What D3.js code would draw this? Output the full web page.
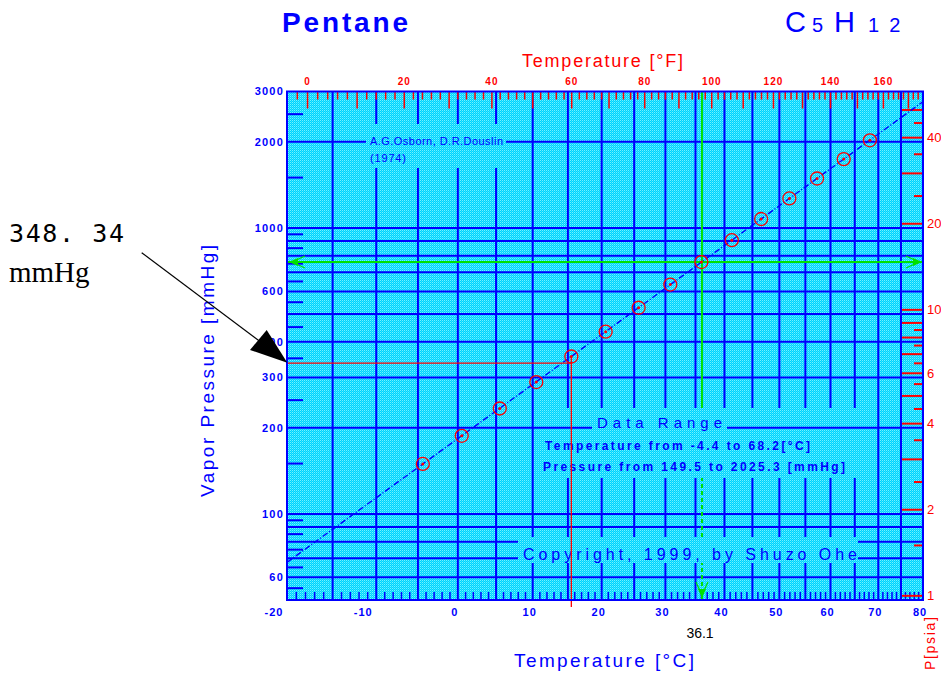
<!DOCTYPE html>
<html>
<head>
<meta charset="utf-8">
<script src="https://cdn.jsdelivr.net/npm/d3@7"></script>
<style>
body { margin: 0; background: #fff; }
svg { display: block; font-family: "Liberation Sans", Arial, sans-serif; }
</style>
</head>
<body>
<svg id="chart" width="941" height="675"></svg>
<script>
// measured points (Osborn & Douslin 1974)
var tempC = [-4.4, 0.5, 5.5, 10.5, 15.5, 20.6, 25.7, 30.8, 36.0, 41.3, 46.6, 51.9, 57.3, 62.7, 68.2];
var pressMmHg = [149.5, 187.6, 233.7, 289.1, 355.2, 433.6, 525.9, 634.0, 760.0, 906.1, 1074.6, 1268.0, 1489.1, 1740.8, 2025.3];
// fitted line end points
var fitT = [-20, 80];
var fitP = [67.7, 2764];

var yGrid = [60, 70, 80, 90, 100, 200, 300, 400, 500, 600, 700, 800, 900, 1000, 2000];
var yMinor = [55, 65, 75, 85, 95, 150, 250, 350, 450, 550, 650, 750, 850, 950, 1500, 2500];
var yLabels = [60, 100, 200, 300, 400, 600, 1000, 2000, 3000];
var xLabels = [-20, -10, 0, 10, 20, 30, 40, 50, 60, 70, 80];
var fLabels = [0, 20, 40, 60, 80, 100, 120, 140, 160];
var psiaMajor = [1, 2, 3, 4, 5, 6, 7, 8, 9, 10, 20, 30, 40, 50];
var psiaMinor = [1.5, 2.5, 3.5, 4.5, 5.5, 6.5, 7.5, 8.5, 25, 35, 45];
var psiaLabels = [1, 2, 4, 6, 10, 20, 40];

var boilT = 36.1, boilP = 760;
var markT = 15.5, markP = 337;

var svg = d3.select('#chart');
// plot frame
var pLeft = 287, pRight = 923, pTop = 91.5, pBottom = 600;
var blue = '#0000ff', red = '#ff0000', green = '#00e000';

// x axis is linear in -1/(t+C) so the Antoine line is straight
var C = 233.2;
var inv = t => -1 / (t + C);
var xInv = d3.scaleLinear().domain([inv(-20), inv(80)]).range([pLeft, pRight]);
var x = t => xInv(inv(t));
var y = d3.scaleLog().domain([50, 3000]).range([pBottom, pTop]);
var fToC = f => (f - 32) * 5 / 9;
var psiaToMmHg = p => p * 51.7149;

var defs = svg.append('defs');
var pat = defs.append('pattern').attr('id', 'dots')
	.attr('width', 2).attr('height', 2).attr('patternUnits', 'userSpaceOnUse');
pat.append('rect').attr('width', 2).attr('height', 2).attr('fill', '#00d0ff');
pat.append('rect').attr('width', 1).attr('height', 1).attr('fill', '#70f4ff');
pat.append('rect').attr('x', 1).attr('y', 1).attr('width', 1).attr('height', 1).attr('fill', '#30e4ff');

svg.append('rect')
	.attr('x', pLeft).attr('y', pTop)
	.attr('width', pRight - pLeft).attr('height', pBottom - pTop)
	.attr('fill', 'url(#dots)');

var g = svg.append('g');

//vertical grid every 5 C
g.selectAll('line.vgrid')
	.data(d3.range(-15, 80, 5))
	.enter().append('line')
	.attr('x1', d => x(d)).attr('x2', d => x(d))
	.attr('y1', pTop).attr('y2', pBottom)
	.attr('stroke', blue).attr('stroke-width', 2);

//minor ticks every 1 C at the bottom
g.selectAll('line.xminor')
	.data(d3.range(-19, 80).filter(d => d % 5 != 0))
	.enter().append('line')
	.attr('x1', d => x(d)).attr('x2', d => x(d))
	.attr('y1', pBottom - 8).attr('y2', pBottom)
	.attr('stroke', blue).attr('stroke-width', 1.5);

g.selectAll('line.hgrid')
	.data(yGrid)
	.enter().append('line')
	.attr('x1', pLeft).attr('x2', pRight)
	.attr('y1', d => y(d)).attr('y2', d => y(d))
	.attr('stroke', blue).attr('stroke-width', 2);

g.selectAll('line.yminor')
	.data(yMinor)
	.enter().append('line')
	.attr('x1', pLeft).attr('x2', pLeft + 16)
	.attr('y1', d => y(d)).attr('y2', d => y(d))
	.attr('stroke', blue).attr('stroke-width', 2);

//top F ticks
g.selectAll('line.fticks')
	.data(d3.range(-4, 177, 2))
	.enter().append('line')
	.attr('x1', d => x(fToC(d))).attr('x2', d => x(fToC(d)))
	.attr('y1', pTop).attr('y2', d => d % 10 == 0 ? pTop + 17 : pTop + 8)
	.attr('stroke', red).attr('stroke-width', 1.5);

//right psia ticks
g.selectAll('line.pmajor')
	.data(psiaMajor)
	.enter().append('line')
	.attr('x1', pRight - 21).attr('x2', pRight)
	.attr('y1', d => y(psiaToMmHg(d))).attr('y2', d => y(psiaToMmHg(d)))
	.attr('stroke', red).attr('stroke-width', 2);
g.selectAll('line.pminor')
	.data(psiaMinor)
	.enter().append('line')
	.attr('x1', pRight - 9).attr('x2', pRight)
	.attr('y1', d => y(psiaToMmHg(d))).attr('y2', d => y(psiaToMmHg(d)))
	.attr('stroke', red).attr('stroke-width', 2);

//green boiling point lines (under the text boxes)
var bx = x(boilT), by = y(boilP);
g.append('line')
	.attr('x1', pLeft).attr('x2', pRight).attr('y1', by).attr('y2', by)
	.attr('stroke', green).attr('stroke-width', 2);
g.append('line')
	.attr('x1', bx).attr('x2', bx).attr('y1', pTop).attr('y2', 470)
	.attr('stroke', green).attr('stroke-width', 2);
g.append('line')
	.attr('x1', bx).attr('x2', bx).attr('y1', 470).attr('y2', pBottom)
	.attr('stroke', green).attr('stroke-width', 2)
	.attr('stroke-dasharray', '4,3');

function arrowHead(px, py, dx, dy) {
	//dx,dy direction of the arrow tip
	var nx = -dy, ny = dx;
	g.append('path')
		.attr('d', 'M' + px + ',' + py +
			'L' + (px - dx * 9 + nx * 4) + ',' + (py - dy * 9 + ny * 4) +
			'L' + (px - dx * 9 - nx * 4) + ',' + (py - dy * 9 - ny * 4) + 'Z')
		.attr('fill', green);
	g.append('path')
		.attr('d', 'M' + (px - dx * 16 + nx * 6) + ',' + (py - dy * 16 + ny * 6) +
			'L' + (px - dx * 3) + ',' + (py - dy * 3) +
			'L' + (px - dx * 16 - nx * 6) + ',' + (py - dy * 16 - ny * 6))
		.attr('fill', 'none').attr('stroke', green).attr('stroke-width', 1.2);
}
arrowHead(pLeft + 2, by, -1, 0);
arrowHead(pRight - 1, by, 1, 0);
arrowHead(bx, pBottom - 2, 0, 1);

//text boxes that hide the grid
function box(x0, y0, w, h) {
	g.append('rect').attr('x', x0).attr('y', y0).attr('width', w).attr('height', h)
		.attr('fill', 'url(#dots)');
}
box(366, 124, 140, 44);
box(538, 408, 324, 70);
box(518, 537, 340, 26);

//frame line of the data range box
[[538, 592], [727, 862]].forEach(function(s) {
	g.append('line')
		.attr('x1', s[0]).attr('x2', s[1]).attr('y1', y(200)).attr('y2', y(200))
		.attr('stroke', blue).attr('stroke-width', 2);
});

var inner = g.append('g').attr('fill', blue);
inner.append('text').attr('x', 370).attr('y', 145)
	.attr('font-size', 11).attr('textLength', 133).attr('lengthAdjust', 'spacing')
	.text('A.G.Osborn, D.R.Douslin');
inner.append('text').attr('x', 370).attr('y', 162)
	.attr('font-size', 11).attr('textLength', 36).attr('lengthAdjust', 'spacing')
	.text('(1974)');
inner.append('text').attr('x', 597).attr('y', 428)
	.attr('font-size', 15).attr('textLength', 125).attr('lengthAdjust', 'spacing')
	.text('Data Range');
inner.append('text').attr('x', 545).attr('y', 450)
	.attr('font-size', 12).attr('font-weight', 'bold')
	.attr('textLength', 265).attr('lengthAdjust', 'spacing')
	.text('Temperature from -4.4 to 68.2[°C]');
inner.append('text').attr('x', 543).attr('y', 471)
	.attr('font-size', 12).attr('font-weight', 'bold')
	.attr('textLength', 302).attr('lengthAdjust', 'spacing')
	.text('Pressure from 149.5 to 2025.3 [mmHg]');
inner.append('text').attr('x', 523).attr('y', 560)
	.attr('font-size', 16).attr('textLength', 334).attr('lengthAdjust', 'spacing')
	.text('Copyright, 1999, by Shuzo Ohe');

//fitted line
g.append('line')
	.attr('x1', x(fitT[0])).attr('y1', y(fitP[0]))
	.attr('x2', x(fitT[1])).attr('y2', y(fitP[1]))
	.attr('stroke', blue).attr('stroke-width', 1.4)
	.attr('stroke-dasharray', '6,2,1,2');

//red cursor lines
var mx = x(markT), my = y(markP);
g.append('line')
	.attr('x1', mx).attr('x2', mx).attr('y1', y(pressMmHg[4])).attr('y2', pBottom + 7)
	.attr('stroke', red).attr('stroke-width', 1.3);
g.append('line')
	.attr('x1', pLeft).attr('x2', mx).attr('y1', my).attr('y2', my)
	.attr('stroke', red).attr('stroke-width', 1.2);

//data points
var pts = g.selectAll('g.pt')
	.data(tempC.map((t, i) => ({t: t, p: pressMmHg[i]})))
	.enter().append('g').attr('class', 'pt');
pts.append('circle')
	.attr('cx', d => x(d.t)).attr('cy', d => y(d.p)).attr('r', 6.5)
	.attr('fill', 'none').attr('stroke', red).attr('stroke-width', 1.3);
pts.append('circle')
	.attr('cx', d => x(d.t)).attr('cy', d => y(d.p)).attr('r', 1.5)
	.attr('fill', red);

svg.append('rect')
	.attr('x', pLeft).attr('y', pTop)
	.attr('width', pRight - pLeft).attr('height', pBottom - pTop)
	.attr('fill', 'none').attr('stroke', blue).attr('stroke-width', 2);

//axis labels
svg.append('g').selectAll('text')
	.data(yLabels).enter().append('text')
	.attr('x', 284).attr('y', d => y(d)).attr('dy', '0.35em')
	.attr('text-anchor', 'end').attr('fill', blue)
	.attr('font-size', 11).attr('font-weight', 'bold').attr('letter-spacing', 1.2)
	.text(d => d);
svg.append('g').selectAll('text')
	.data(xLabels).enter().append('text')
	.attr('x', d => x(d) + (d < 0 ? -13 : -3)).attr('y', 616)
	.attr('text-anchor', 'middle').attr('fill', blue)
	.attr('font-size', 11).attr('font-weight', 'bold').attr('letter-spacing', 1)
	.text(d => d);
svg.append('g').selectAll('text')
	.data(fLabels).enter().append('text')
	.attr('x', d => x(fToC(d))).attr('y', 85)
	.attr('text-anchor', 'middle').attr('fill', red)
	.attr('font-size', 10).attr('font-weight', 'bold').attr('letter-spacing', 1)
	.text(d => d);
svg.append('g').selectAll('text')
	.data(psiaLabels).enter().append('text')
	.attr('x', 927).attr('y', d => y(psiaToMmHg(d))).attr('dy', '0.35em')
	.attr('fill', red).attr('font-size', 13)
	.text(d => d);

svg.append('text').attr('x', 700).attr('y', 638)
	.attr('text-anchor', 'middle').attr('font-size', 14).attr('fill', '#000')
	.text('36.1');

//titles
svg.append('text').attr('x', 282).attr('y', 32)
	.attr('font-size', 28).attr('font-weight', 'bold').attr('fill', blue)
	.attr('textLength', 126).attr('lengthAdjust', 'spacing')
	.text('Pentane');
var formula = svg.append('text').attr('x', 785).attr('y', 32).attr('fill', blue);
formula.append('tspan').attr('font-size', 29).text('C');
formula.append('tspan').attr('font-size', 20).attr('dx', 6).text('5');
formula.append('tspan').attr('font-size', 29).attr('dx', 11).text('H');
formula.append('tspan').attr('font-size', 20).attr('dx', 13).text('1');
formula.append('tspan').attr('font-size', 20).attr('dx', 10).text('2');

svg.append('text').attr('x', 522).attr('y', 67)
	.attr('font-size', 18).attr('fill', red)
	.attr('textLength', 161).attr('lengthAdjust', 'spacing')
	.text('Temperature [°F]');
svg.append('text').attr('x', 514).attr('y', 667)
	.attr('font-size', 19).attr('fill', blue)
	.attr('textLength', 180).attr('lengthAdjust', 'spacing')
	.text('Temperature [°C]');
svg.append('text')
	.attr('transform', 'translate(214,497) rotate(-90)')
	.attr('font-size', 19).attr('fill', blue)
	.attr('textLength', 252).attr('lengthAdjust', 'spacing')
	.text('Vapor Pressure  [mmHg]');
svg.append('text')
	.attr('transform', 'translate(935,670) rotate(-90)')
	.attr('font-size', 14).attr('fill', red)
	.attr('textLength', 53).attr('lengthAdjust', 'spacing')
	.text('P[psia]');

//annotation with arrow
svg.append('text').attr('x', 9).attr('y', 242)
	.attr('font-family', '"DejaVu Sans Mono", monospace').attr('font-size', 25)
	.attr('textLength', 115).attr('lengthAdjust', 'spacing')
	.text('348. 34');
svg.append('text').attr('x', 9).attr('y', 282)
	.attr('font-family', '"Liberation Serif", "Times New Roman", serif').attr('font-size', 29)
	.text('mmHg');
svg.append('line')
	.attr('x1', 141.7).attr('y1', 252.7).attr('x2', 262).attr('y2', 343)
	.attr('stroke', '#000').attr('stroke-width', 1.2);
svg.append('path')
	.attr('d', 'M287.3,362.7L250,350L266.7,330Z')
	.attr('fill', '#000');
</script>
</body>
</html>
